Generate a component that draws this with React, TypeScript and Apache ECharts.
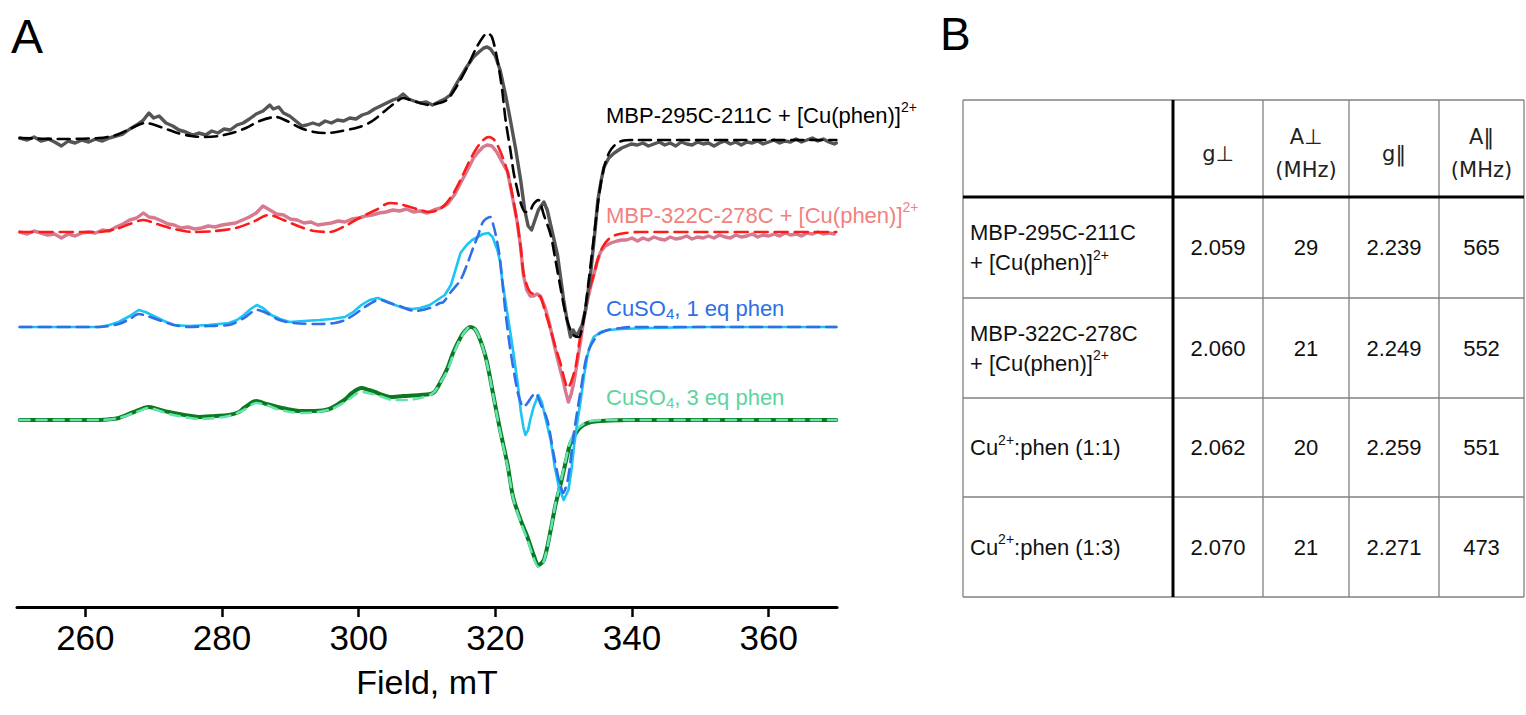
import React, { useEffect, useRef } from "react";
import * as echarts from "echarts";

// ---------- Panel A data (field in mT, signal in plot units relative to each trace baseline) ----------
const fieldTicks = [260, 280, 300, 320, 340, 360];
const traceOffsets = [0, -92, -187, -280]; // MBP-295C-211C, MBP-322C-278C, CuSO4 1 eq, CuSO4 3 eq

const blackExp: number[][] = [
  [250.4, 2], [251.5, 0], [252.5, 3], [253.5, -1], [254.6, 1], [255.5, -2], [256.5, -6], [257.5, -1], [258.5, -3],
  [259.5, 0], [260.5, -2], [261.5, 1], [262.5, -1], [263.5, 2], [264.5, 4], [265.5, 6], [266.5, 11], [267.5, 15],
  [268.5, 20], [269.3, 27], [270, 22], [270.8, 24], [271.8, 17], [272.8, 14], [273.7, 10], [274.7, 8], [275.7, 5],
  [276.6, 7], [277.6, 5], [278.5, 9], [279.4, 7], [280.3, 11], [281.2, 10], [282.2, 15], [283.1, 17], [284, 21],
  [285, 26], [286, 29], [287, 35], [287.5, 31], [288.3, 33], [289, 27], [289.9, 24], [290.8, 19], [291.7, 14],
  [292.4, 15], [293.3, 17], [294.2, 15], [295.1, 19], [296, 17], [296.9, 20], [297.8, 19], [298.7, 22], [299.6, 21],
  [300.5, 25], [301.4, 27], [302.3, 31], [303.2, 34], [304.1, 37], [305, 40], [305.8, 42], [306.5, 46], [307.3, 41],
  [308.1, 39], [309, 37], [309.9, 38], [310.8, 35], [311.7, 38], [312.6, 41], [313.4, 45], [314.2, 55], [314.9, 63],
  [315.8, 73], [316.8, 83], [317.6, 88], [318.3, 92], [318.8, 93], [319.3, 91], [320, 84], [320.7, 70], [321.5, 45],
  [322.2, 20], [323, -10], [323.7, -40], [324.3, -70], [324.8, -86], [325.3, -90], [325.8, -80], [326.3, -70],
  [327.1, -62], [327.6, -70], [328.1, -85], [328.6, -100], [329.1, -115], [329.6, -140], [330, -160], [330.5, -180],
  [331, -197], [331.4, -190], [331.8, -196], [332.2, -192], [332.7, -185], [333.2, -170], [334, -130], [334.6, -90],
  [335, -60], [335.5, -40], [335.9, -27], [336.6, -18], [337.4, -13], [338.5, -8], [339.9, -4], [340.8, -5],
  [341.6, -3], [342.4, -6], [343.2, -4], [344, -2], [344.8, -5], [345.6, -3], [346.4, -6], [347.2, -2], [348, -4],
  [348.8, -5], [349.6, -2], [350.4, -4], [351.2, -3], [352, -6], [352.8, -3], [353.6, -1], [354.4, -4], [355.2, -2],
  [356, -5], [356.8, -2], [357.6, -3], [358.4, -1], [359.2, -4], [360, -2], [360.8, 0], [361.6, -3], [362.4, -1],
  [363.2, -2], [364, 1], [364.8, -2], [365.6, 0], [366.4, 2], [367.2, -1], [368, 1], [368.8, -2], [369.6, -4], [369.9, -3],
];

const blackSim: number[][] = [
  [250.4, 2], [256, 1], [262, 2], [264.5, 5], [266.5, 11], [268.8, 17], [271, 13], [273.5, 7], [275.5, 4], [277.6, 3],
  [279.5, 4], [281.5, 7], [283.5, 12], [285.5, 19], [287.9, 23], [289.5, 19], [291.5, 12], [293.5, 8], [295.3, 7],
  [297.5, 9], [300.1, 13], [302, 19], [304, 30], [305.5, 38], [306.5, 42], [308, 39], [310.4, 35], [311.8, 37],
  [312.9, 40], [314.2, 52], [315.9, 73], [317.2, 92], [318.3, 104], [318.8, 107], [319.5, 103], [320.3, 80],
  [321, 50], [321.5, 20], [322.2, -10], [322.9, -40], [324.4, -72], [324.9, -72], [325.6, -64], [326.3, -60],
  [327.1, -75], [328.1, -95], [328.8, -120], [329.6, -150], [330.3, -175], [331, -190], [331.6, -196], [332.2, -197],
  [332.9, -180], [333.5, -150], [334.2, -110], [334.8, -75], [335.4, -45], [336, -25], [336.7, -12], [337.5, -5],
  [338.5, -1], [340, 0], [369.9, 0],
];

const redExp: number[][] = [
  [250.4, 0], [251.5, -2], [252.5, 1], [253.5, -1], [254.5, -3], [255.5, -2], [256.5, -6], [257.5, -2], [258.5, -4],
  [259.5, -1], [260.5, 0], [261.5, -1], [262.5, 2], [263.5, 1], [264.5, 5], [265.5, 8], [266.5, 12], [267.5, 14],
  [268.5, 19], [269.3, 15], [270.2, 14], [271.2, 11], [272.1, 8], [273, 7], [274, 4], [275, 5], [276, 3], [277, 4],
  [278, 6], [279, 5], [280, 7], [281, 8], [282, 9], [283, 12], [284, 15], [285, 19], [286, 26], [287, 22], [288, 18],
  [289, 17], [290, 13], [291, 12], [292, 9], [293, 10], [294, 7], [295, 8], [296, 9], [297, 11], [298, 10], [299, 13],
  [300, 14], [301, 16], [302, 17], [303, 19], [304, 20], [305, 22], [306, 21], [307, 23], [308, 20], [309, 21],
  [310, 19], [311, 22], [312, 24], [313, 28], [314, 37], [315, 50], [316, 63], [316.8, 74], [317.5, 80], [318.2, 85],
  [318.8, 87], [319.5, 86], [320.2, 80], [321, 70], [321.8, 60], [322.5, 35], [323.2, 10], [323.7, -15], [324.1, -43],
  [324.6, -58], [325.1, -64], [325.6, -64], [326.1, -62], [326.6, -64], [327.2, -74], [327.8, -88], [328.3, -103],
  [328.8, -118], [329.4, -135], [329.9, -148], [330.3, -160], [330.7, -170], [331.1, -162], [331.5, -150], [332, -130],
  [332.5, -108], [333, -85], [333.5, -68], [334, -53], [334.4, -43], [334.9, -30], [335.4, -20], [336.1, -14],
  [336.9, -11], [337.8, -9], [338.5, -8], [339.2, -8], [340, -6], [340.8, -9], [341.6, -6], [342.4, -8], [343.2, -5],
  [344, -7], [344.8, -8], [345.6, -5], [346.4, -7], [347.2, -6], [348, -4], [348.8, -7], [349.6, -5], [350.4, -6],
  [351.2, -4], [352, -6], [352.8, -3], [353.6, -5], [354.4, -6], [355.2, -3], [356, -5], [356.8, -4], [357.6, -2],
  [358.4, -5], [359.2, -3], [360, -4], [360.8, -2], [361.6, -4], [362.4, -1], [363.2, -3], [364, -2], [364.8, -4],
  [365.6, -1], [366.4, -2], [367.2, 0], [368, -2], [368.8, -1], [369.6, -2],
];

const redSim: number[][] = [
  [250.4, 0], [262, 0], [264.5, 3], [266.5, 8], [268.5, 12], [270.5, 8], [273, 3], [275.9, 0], [279, 1], [282, 4],
  [284.5, 10], [286.9, 17], [289, 12], [291.5, 5], [293.5, 1], [295.7, 0], [298, 6], [300.1, 14], [302.5, 22],
  [304.6, 29], [306, 28], [307.5, 25], [309, 22], [310.4, 20], [311.6, 22], [312.6, 27], [313.8, 38], [314.9, 52],
  [316, 68], [317.1, 82], [318.1, 91], [319, 95], [319.7, 93], [320.3, 87], [321, 76], [321.8, 60], [322.5, 37],
  [323.2, 10], [323.7, -15], [324.1, -40], [324.6, -53], [325.1, -60], [325.9, -63], [326.6, -65], [327.3, -80],
  [328.1, -98], [328.8, -115], [329.6, -133], [330.1, -147], [330.6, -156], [331.1, -150], [331.8, -133],
  [332.3, -110], [332.9, -88], [333.6, -62], [334.4, -43], [335, -27], [335.7, -15], [336.6, -7], [337.6, -3],
  [339, -1], [341, 0], [369.9, 0],
];

const blueExp: number[][] = [
  [250.4, 0], [258, 0], [262, 0], [263.5, 2], [264.9, 5], [266.5, 11], [267.8, 17], [268.8, 15], [270, 11],
  [271.5, 6], [272.9, 2], [275.1, 1], [278, 2], [281, 4], [282.2, 7], [283.2, 12], [284.2, 18], [285.1, 22], [286, 19],
  [287.2, 12], [288.5, 8], [289.9, 5], [292, 6], [294.3, 7], [296, 8], [298, 10], [299.2, 15], [300.4, 22], [301.6, 27],
  [302.8, 29], [304, 26], [305.3, 22], [306.6, 19], [307.9, 18], [309, 19], [310.4, 22], [311.5, 27], [312.6, 32],
  [313.5, 42], [314.3, 60], [314.9, 74], [315.8, 82], [316.6, 87], [317.4, 90], [318.2, 93], [319, 94], [319.6, 90],
  [320.3, 77], [320.7, 65], [321, 47], [321.5, 25], [321.9, 7], [322.3, -10], [322.8, -33], [323.3, -58], [323.7, -83],
  [324.1, -100], [324.4, -108], [324.8, -103], [325.1, -93], [325.6, -80], [326.3, -68], [326.8, -75], [327.4, -93],
  [328.1, -113], [328.7, -140], [329.3, -160], [330, -173], [330.7, -163], [331.1, -145], [331.5, -120], [332, -95],
  [332.5, -73], [333, -48], [333.5, -28], [334, -16], [334.4, -10], [335.4, -5], [336.5, -3], [338.4, -2], [342.8, -1],
  [350, 0], [369.9, 0],
];

const blueSim: number[][] = [
  [250.4, 0], [262, 0], [264.9, 3], [266.5, 8], [267.8, 13], [269, 11], [270.7, 7], [273, 2], [275.1, 0], [278, 1],
  [281, 2], [283.2, 9], [285.1, 17], [286.5, 14], [288.4, 7], [290.5, 4], [294.3, 3], [296.5, 4], [298, 7],
  [299.5, 13], [300.9, 20], [302.4, 26], [303.1, 27], [304.5, 24], [306, 21], [308.2, 16], [310.4, 19], [311.9, 24],
  [312.4, 25], [313.5, 35], [314.9, 47], [316, 65], [316.8, 80], [317.5, 92], [318.1, 104], [318.6, 108], [319.3, 110],
  [319.7, 102], [320, 94], [320.6, 72], [321, 47], [321.5, 14], [322.2, -23], [323.2, -63], [323.7, -75], [324.1, -80],
  [324.6, -77], [325.3, -70], [325.9, -66], [326.5, -75], [327.6, -93], [328.5, -126], [329.2, -150], [329.6, -160],
  [329.9, -166], [330.6, -153], [331.5, -106], [332.5, -63], [333.5, -26], [335, -8], [336.5, -3], [338.4, -1],
  [340, 0], [369.9, 0],
];

const greenExp: number[][] = [
  [250.4, 0], [262, 0], [264, 1], [264.9, 2], [267.1, 8], [269.3, 13], [270.5, 11], [272.2, 8], [274.5, 5],
  [276.6, 3], [279, 4], [281, 5], [282.5, 8], [283.2, 12], [285, 19], [286.5, 16], [287.6, 14], [289.5, 11],
  [291.3, 9], [293.5, 9], [295.7, 11], [297.9, 20], [299, 27], [300.4, 32], [301.5, 30], [302.4, 28], [303.5, 25],
  [304.6, 23], [306.5, 24], [309, 25], [310.9, 27], [311.9, 37], [313, 52], [313.8, 67], [315.1, 85], [315.7, 90],
  [316.3, 93], [317, 91], [317.5, 85], [318.2, 72], [318.8, 57], [319.7, 25], [320.7, -10], [321.8, -45], [322.6, -77],
  [323.7, -100], [324.7, -117], [325.6, -135], [326.3, -145], [327.1, -140], [328.1, -110], [328.8, -85], [329.6, -63],
  [330.3, -42], [331, -23], [332.1, -10], [332.9, -5], [334, -2], [335.4, -1], [339.9, 0], [369.9, 0],
];

const greenSim: number[][] = [
  [250.4, 0], [262, 0], [264.9, 2], [267.1, 7], [269.3, 12], [270.5, 10], [272.2, 6], [274.5, 3], [276.6, 1],
  [279, 2], [281, 4], [283.2, 10], [285, 17], [286.5, 15], [288, 11], [290, 8], [292, 7], [294, 8], [296, 11],
  [298, 18], [300.4, 28], [302, 26], [303.5, 23], [305, 20], [307, 20], [309, 22], [310.9, 27], [312, 38], [313, 50],
  [314, 68], [315.1, 84], [316, 92], [316.5, 93], [317.2, 89], [318, 76], [318.8, 56], [319.7, 24], [320.7, -12],
  [321.8, -47], [322.6, -78], [323.7, -102], [324.7, -120], [325.6, -138], [326.3, -147], [327.1, -141], [328.1, -110],
  [328.8, -84], [329.6, -61], [330.3, -40], [331, -21], [332.1, -8], [332.9, -4], [334, -1], [336, 0], [369.9, 0],
];

const traceNames = ["MBP-295C-211C + [Cu(phen)]", "MBP-322C-278C + [Cu(phen)]", "CuSO", "CuSO"];
const traceNameTails = ["", "", ", 1 eq phen", ", 3 eq phen"];

// ---------- Panel B table data ----------
const tableHeaders = ["g\u22A5", "A\u22A5\n(MHz)", "g\u2016", "A\u2016\n(MHz)"];
const sampleNameHeads = ["MBP-295C-211C", "MBP-322C-278C", "Cu", "Cu"];
const sampleNameTails = ["+ [Cu(phen)]", "+ [Cu(phen)]", ":phen (1:1)", ":phen (1:3)"];
const gPerp = [2.059, 2.06, 2.062, 2.07];
const aPerp = [29, 21, 20, 21];
const gPar = [2.239, 2.249, 2.259, 2.271];
const aPar = [565, 552, 551, 473];

const FONT = '"Liberation Sans", Arial, Helvetica, sans-serif';
const HFONT = '"DejaVu Sans", Verdana, sans-serif';

export default function App() {
  const ref = useRef<HTMLDivElement>(null);

  useEffect(() => {
    if (!ref.current) return;
    const chart = echarts.init(ref.current, undefined, { renderer: "svg" });

    const shift = (arr: number[][], off: number) => arr.map(([f, v]) => [f, v + off]);
    const line = (data: number[][], color: string, width: number, dash: any, z: number, smooth: number | boolean = false) => ({
      type: "line",
      data,
      showSymbol: false,
      symbol: "none",
      silent: true,
      smooth,
      z,
      lineStyle: { color, width, type: dash, cap: "round", join: "round" },
    });

    const series = [
      line(shift(greenExp, traceOffsets[3]), "#0b7a1f", 4, "solid", 2, 0.3),
      line(shift(greenSim, traceOffsets[3]), "#63e3ad", 2.6, [10, 7], 3, 0.3),
      line(shift(blueExp, traceOffsets[2]), "#1cc5f2", 2.6, "solid", 4),
      line(shift(blueSim, traceOffsets[2]), "#2f6fe8", 2.6, [12, 7], 5, 0.3),
      line(shift(redExp, traceOffsets[1]), "#d7798f", 3.4, "solid", 6),
      line(shift(redSim, traceOffsets[1]), "#ff1a1a", 2.6, [13, 7], 7, 0.3),
      line(shift(blackExp, traceOffsets[0]), "#555555", 3.4, "solid", 8),
      line(shift(blackSim, traceOffsets[0]), "#000000", 2.6, [12, 7], 9, 0.3),
    ];

    const graphics: any[] = [];
    // Panel letters
    graphics.push({ type: "text", x: 11, y: 36, style: { text: "A", fill: "#000", fontSize: 48, fontFamily: FONT, align: "left", verticalAlign: "middle" } });
    graphics.push({ type: "text", x: 940, y: 34, style: { text: "B", fill: "#000", fontSize: 46, fontFamily: FONT, align: "left", verticalAlign: "middle" } });

    // Trace labels
    const labelColors = ["#000000", "#f37f7f", "#2c6fe6", "#5cd4a0"];
    const labelY = [115, 215, 308, 397];
    traceNames.forEach((name, i) => {
      const c = labelColors[i];
      const isSup = i < 2;
      const text = isSup ? `{n|${name}}{s|2+}` : `{n|${name}}{b|4}{n|${traceNameTails[i]}}`;
      graphics.push({
        type: "text",
        x: 606,
        y: labelY[i],
        z: 20,
        style: {
          text,
          align: "left",
          verticalAlign: "middle",
          fill: c,
          rich: {
            n: { fontSize: 22, fontFamily: FONT, fill: c, lineHeight: isSup ? 30 : 26 },
            s: { fontSize: 14, fontFamily: FONT, fill: c, verticalAlign: "top" },
            b: { fontSize: 15, fontFamily: FONT, fill: c, verticalAlign: "bottom" },
          },
        },
      });
    });

    // Table
    const colX = [963, 1173, 1263, 1349, 1439, 1524];
    const rowY = [100, 197, 298, 398, 497, 597];
    rowY.forEach((y, i) => {
      const thick = i === 1;
      graphics.push({ type: "line", z: thick ? 12 : 10, shape: { x1: colX[0], y1: y, x2: colX[5], y2: y }, style: { stroke: thick ? "#000" : "#808080", lineWidth: thick ? 3 : 1.3 } });
    });
    colX.forEach((x, j) => {
      const thick = j === 1;
      graphics.push({ type: "line", z: thick ? 12 : 10, shape: { x1: x, y1: rowY[0], x2: x, y2: rowY[5] }, style: { stroke: thick ? "#000" : "#808080", lineWidth: thick ? 3 : 1.3 } });
    });
    tableHeaders.forEach((h, j) => {
      graphics.push({
        type: "text",
        x: (colX[j + 1] + colX[j + 2]) / 2,
        y: (rowY[0] + rowY[1]) / 2 + 5,
        z: 15,
        style: { text: h, fill: "#222", fontSize: 21, fontFamily: HFONT, align: "center", verticalAlign: "middle", lineHeight: 33 },
      });
    });
    const rich = {
      n: { fontSize: 22, fontFamily: FONT, fill: "#111", lineHeight: 30 },
      s: { fontSize: 14, fontFamily: FONT, fill: "#111", verticalAlign: "top" },
    };
    sampleNameHeads.forEach((head, r) => {
      const cy = (rowY[r + 1] + rowY[r + 2]) / 2;
      const tail = sampleNameTails[r];
      const text = r < 2 ? `{n|${head}}\n{n|${tail}}{s|2+}` : `{n|${head}}{s|2+}{n|${tail}}`;
      graphics.push({ type: "text", x: 970, y: cy, z: 15, style: { text, align: "left", verticalAlign: "middle", fill: "#111", rich } });
      const vals = [gPerp[r].toFixed(3), String(aPerp[r]), gPar[r].toFixed(3), String(aPar[r])];
      vals.forEach((v, j) => {
        graphics.push({
          type: "text",
          x: (colX[j + 1] + colX[j + 2]) / 2,
          y: cy,
          z: 15,
          style: { text: v, fill: "#111", fontSize: 22, fontFamily: FONT, align: "center", verticalAlign: "middle" },
        });
      });
    });

    chart.setOption({
      animation: false,
      backgroundColor: "#ffffff",
      grid: { left: 17, right: 689, top: 0, bottom: 108, containLabel: false },
      xAxis: {
        type: "value",
        min: 250,
        max: 370,
        name: "Field, mT",
        nameLocation: "middle",
        nameGap: 58,
        nameTextStyle: { fontSize: 34, color: "#000", fontFamily: FONT },
        axisLine: { show: true, onZero: false, lineStyle: { color: "#000", width: 3 } },
        axisTick: { show: true, inside: false, length: 10, customValues: fieldTicks, lineStyle: { color: "#000", width: 2.5 } },
        axisLabel: { show: true, customValues: fieldTicks, fontSize: 35, color: "#000", fontFamily: FONT, margin: 13 },
        splitLine: { show: false },
      },
      yAxis: { type: "value", min: -467, max: 140, show: false },
      series,
      graphic: graphics,
    });

    return () => chart.dispose();
  }, []);

  return <div ref={ref} style={{ position: "absolute", left: 0, top: 0, width: 1526, height: 715, background: "#fff" }} />;
}
